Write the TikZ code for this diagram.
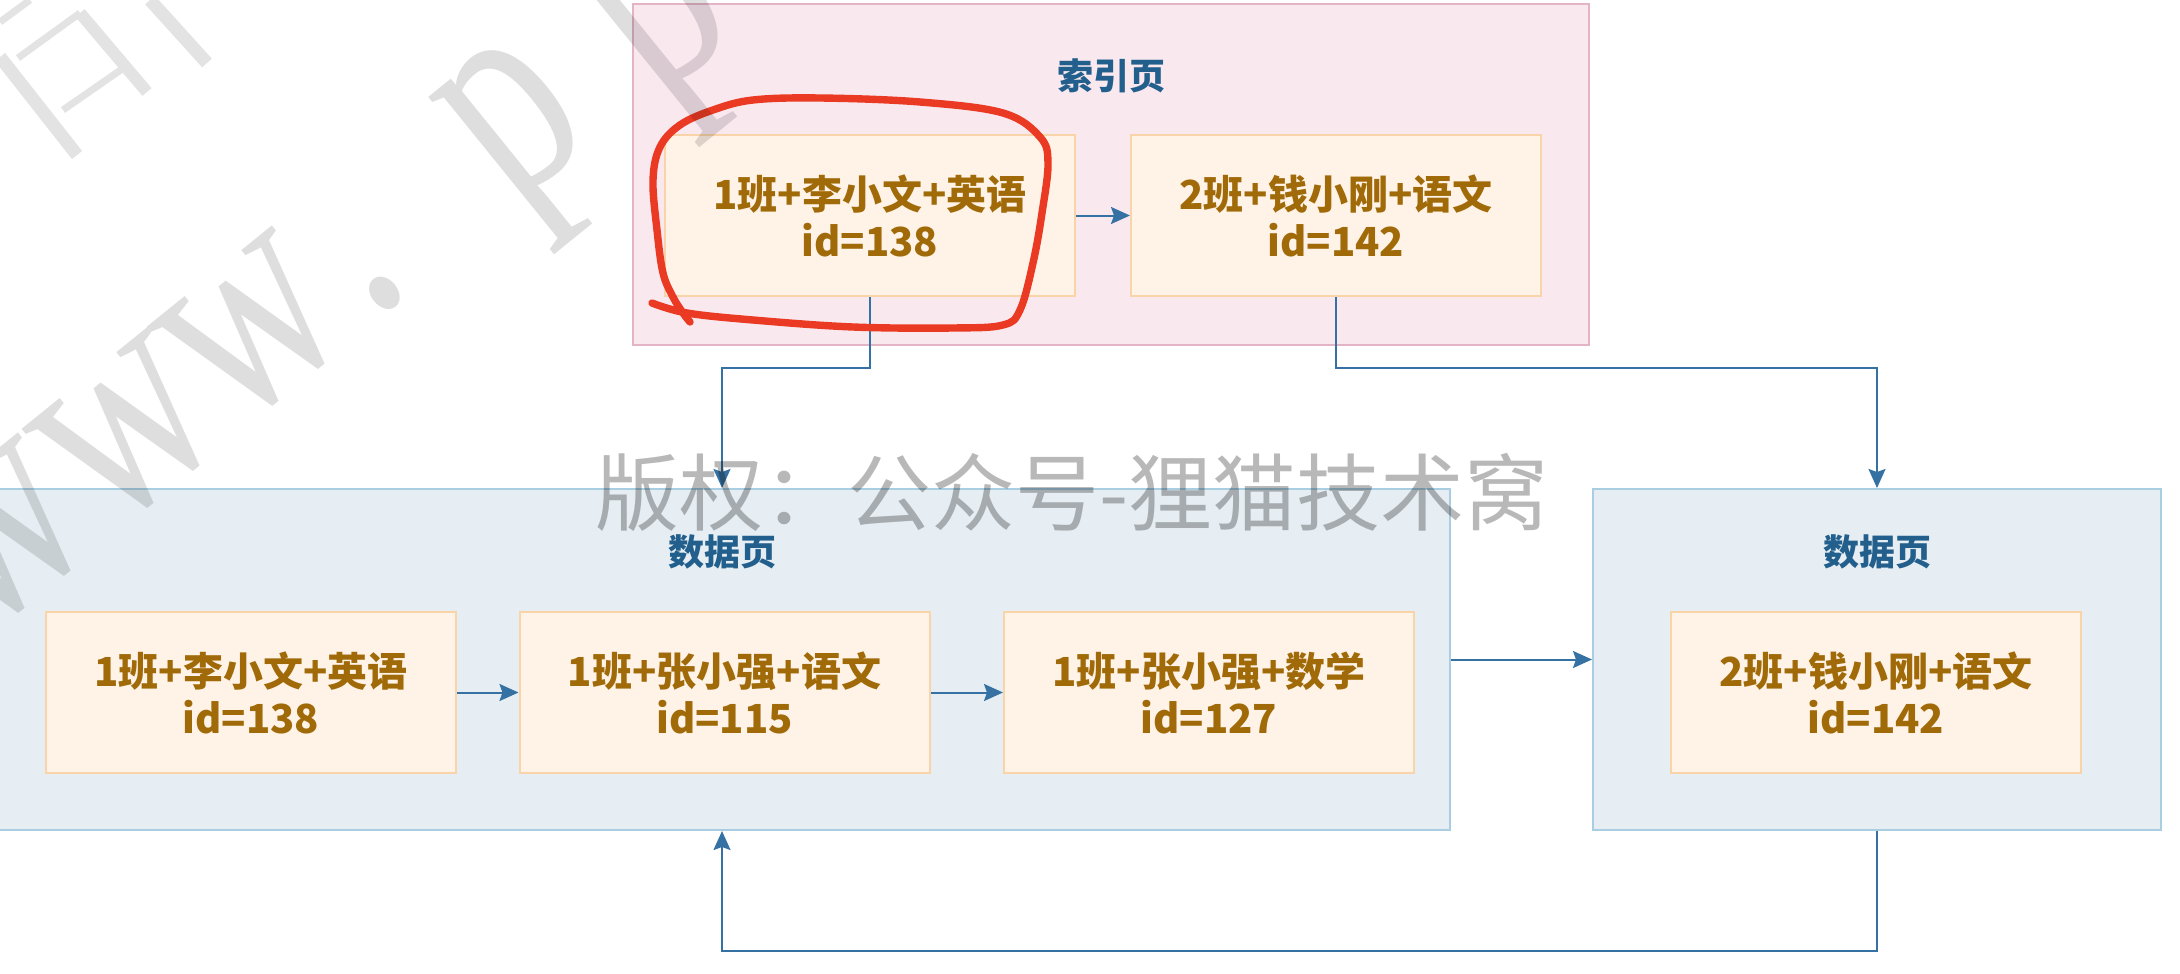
\documentclass[tikz,border=0pt]{standalone}
\usepackage{fontspec}
\newfontfamily\cjk{Noto Sans CJK SC}
\newfontfamily\wmserif{Liberation Serif}
\usetikzlibrary{arrows.meta}
\definecolor{pinkfill}{HTML}{F9E9EF}
\definecolor{pinkline}{HTML}{E4B3C5}
\definecolor{bluefill}{HTML}{E6EEF3}
\definecolor{blueline}{HTML}{A9CEE2}
\definecolor{nodefill}{HTML}{FFF2E6}
\definecolor{nodeline}{HTML}{F8D4A8}
\definecolor{nodetext}{HTML}{A06A08}
\definecolor{titleblue}{HTML}{235F8C}
\definecolor{arrowblue}{HTML}{3571A3}
\definecolor{markred}{HTML}{EA3A24}
\begin{document}
\begin{tikzpicture}[x=0.5pt,y=-0.5pt,
  pagebox/.style={line width=1pt, minimum height=170.5pt, inner sep=0pt},
  indexpage/.style={pagebox, fill=pinkfill, draw=pinkline, minimum width=478pt},
  datapage/.style={pagebox, fill=bluefill, draw=blueline},
  rec/.style={draw=nodeline, fill=nodefill, line width=1pt, minimum width=205pt,
    minimum height=80.5pt, inner sep=0pt, align=center, text=nodetext,
    font=\cjk\bfseries\fontsize{20pt}{23.5pt}\selectfont},
  ptitle/.style={text=titleblue, inner sep=0pt,
    font=\cjk\bfseries\fontsize{18pt}{18pt}\selectfont},
  conn/.style={draw=arrowblue, line width=1pt,
    -{Stealth[length=9.5pt,width=8.5pt,inset=1.5pt]}},
  wmletter/.style={anchor=base, inner sep=0pt, rotate=39, xscale=0.75,
    transform shape, text=black, opacity=0.13,
    font=\wmserif\fontsize{150pt}{150pt}\selectfont},
  wmstroke/.style={draw=black!11, line cap=butt},
  wmcopy/.style={inner sep=0pt, text=black, opacity=0.28,
    font=\cjk\fontsize{42pt}{42pt}\selectfont},
  redloop/.style={draw=markred, line width=3.7pt, line cap=round, line join=round}
]
\useasboundingbox (0,0) rectangle (2180,974);
\clip (0,0) rectangle (2180,974);
\fill[white] (0,0) rectangle (2180,974);

% watermark fragment at the top-left corner (on white)
\draw[wmstroke, line width=6.5pt] (0,57) -- (77,155);
\draw[wmstroke, line width=6pt] (80,13) -- (147,92);
\draw[wmstroke, line width=6.5pt] (150,0) -- (207,63);
\draw[wmstroke, line width=3.5pt] (18,58) -- (80,13);
\draw[wmstroke, line width=3.5pt] (63,110) -- (125,67);
\draw[wmstroke, line width=3.5pt] (0,22) -- (30,0);

% pages
\node[indexpage] (IP) at (1111,174.5) {};
\node[datapage, minimum width=728pt] (P1) at (722,659.5) {};
\node[datapage, minimum width=284pt] (P2) at (1877,659.5) {};

% titles
\node[ptitle] (T0) at (1111,76) {索引页};
\node[ptitle] (T1) at (722,552) {数据页};
\node[ptitle] (T2) at (1877,552) {数据页};

% records
\node[rec] (A) at (870,215.5) {1班+李小文+英语\\id=138};
\node[rec] (B) at (1336,215.5) {2班+钱小刚+语文\\id=142};
\node[rec] (C) at (251,692.5) {1班+李小文+英语\\id=138};
\node[rec] (D) at (724.5,692.5) {1班+张小强+语文\\id=115};
\node[rec] (E) at (1209,692.5) {1班+张小强+数学\\id=127};
\node[rec] (F) at (1876,692.5) {2班+钱小刚+语文\\id=142};

% connectors
\coordinate (midA) at (800,368);
\coordinate (midB) at (1600,368);
\coordinate (midL) at (1300,951);
\draw[conn] (A.east) -- (B.west);
\draw[conn] (C.east) -- (D.west);
\draw[conn] (D.east) -- (E.west);
\draw[conn] (A.south) |- (midA) -| (P1.north);
\draw[conn] (B.south) |- (midB) -| (P2.north);
\draw[conn] (P1.east) -- (P2.west);
\draw[conn] (P2.south) |- (midL) -| (P1.south);

% hand-drawn red mark
\draw[redloop] plot[smooth, tension=0.6] coordinates {
  (652,303) (687,313) (753,320) (853,327) (953,328) (1003,325) (1020,310)
  (1033,263) (1042,213) (1048,163) (1040,137) (1003,113) (920,102) (820,98)
  (753,100) (713,110) (680,125) (660,147) (653,180) (657,230) (663,273)
  (673,297) (683,313) (690,322)};

% watermarks
\node[wmletter] (W1) at (43,590) {w};
\node[wmletter] (W2) at (172,485) {w};
\node[wmletter] (W3) at (297,383) {w};
\node[wmletter] (W4) at (393,304) {.};
\node[wmletter] (W5) at (555,172) {p};
\node[wmletter] (W6) at (700,65) {p};
\node[wmcopy] (WC) at (1072,492) {版权：公众号-狸猫技术窝};
\end{tikzpicture}
\end{document}
